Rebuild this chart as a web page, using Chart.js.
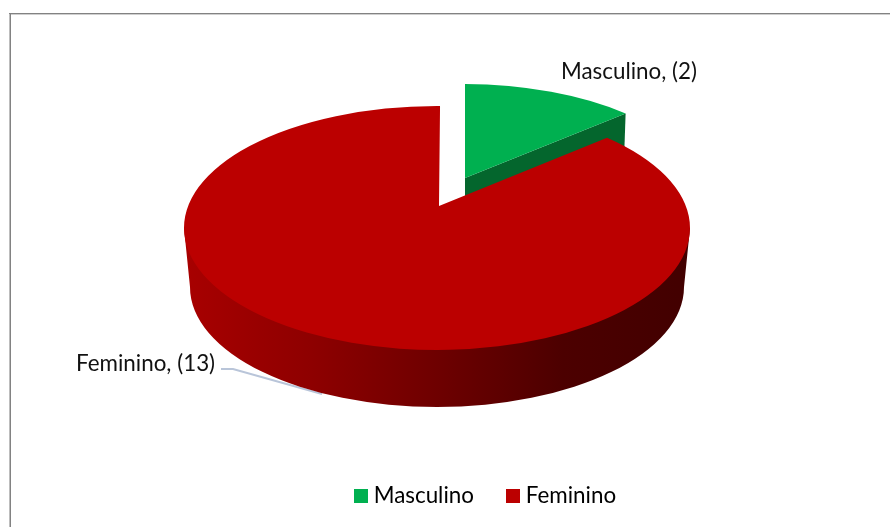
<!DOCTYPE html>
<html><head><meta charset="utf-8">
<style>html,body{margin:0;padding:0;background:#fff}#w{width:890px;height:527px}</style>
<script src="https://cdn.jsdelivr.net/npm/chart.js@4"></script></head>
<body><div id="w"><canvas id="c" width="890" height="527"></canvas></div>
<script>
const categories = ['Masculino', 'Feminino'];
const values = [2, 13];
const sliceColors = ['#00b050', '#bb0000'];
const FONT = 'Lato, Carlito, sans-serif';

// projection of the library's arcs onto a tilted, perspective disc
const view = {dx:-50.5, cy:228, tilt:122/253, apexDrop:-22, s:0.852,
  depth:59, bottomR:247, bottomRy:120};
const explode = [{dx:26, dy:-28, kx:0.96, ky:0.94, tOff:0.008}, {dx:0, dy:0, kx:1, ky:1, tOff:0.012}];
const project = (a,off) => 2*Math.atan2(view.s*Math.sin(a/2), Math.cos(a/2)) + off;

function swatch(color){
  const c = document.createElement('canvas'); c.width = 14; c.height = 14;
  const g = c.getContext('2d'); g.fillStyle = color; g.fillRect(0,0,14,14); return c;
}

const pie3d = {
  id:'pie3d',
  beforeDraw(chart){
    const ctx = chart.ctx;
    ctx.save();
    ctx.fillStyle = '#fff'; ctx.fillRect(0,0,chart.width,chart.height);
    ctx.fillStyle = '#cfcfcf'; ctx.fillRect(9,14,chart.width-9,1);
    ctx.fillStyle = '#bdbdbd'; ctx.fillRect(9,13,1,chart.height-13);
    ctx.fillStyle = '#828282'; ctx.fillRect(9,13,chart.width-9,1); ctx.fillRect(10,13,1,chart.height-13);
    ctx.restore();
  },
  beforeDatasetsDraw(chart){
    const ctx = chart.ctx, arcs = chart.getDatasetMeta(0).data;
    const R = arcs[0].outerRadius, cx = arcs[0].x + view.dx, cy = view.cy, Ry = R*view.tilt;
    const apex = {x:cx+2, y:cy+view.apexDrop};
    ctx.save();
    // leader line of the lower label
    ctx.strokeStyle = '#b9c5d9'; ctx.lineWidth = 2;
    ctx.beginPath(); ctx.moveTo(221,369); ctx.lineTo(233,369); ctx.lineTo(322,394); ctx.stroke();

    arcs.forEach((arc,i)=>{
      const e = explode[i];
      const t0 = project(arc.startAngle+Math.PI/2,e.tOff), t1 = project(arc.endAngle+Math.PI/2,e.tOff);
      ctx.save();
      ctx.translate(apex.x+e.dx, apex.y+e.dy); ctx.scale(e.kx,e.ky); ctx.translate(-apex.x,-apex.y);
      if (i===0){
        // visible cut face of the pulled-out slice
        const ex = cx+R*Math.sin(t1), ey = cy-Ry*Math.cos(t1);
        ctx.fillStyle = '#04662d';
        ctx.beginPath(); ctx.moveTo(apex.x,apex.y); ctx.lineTo(ex,ey);
        ctx.lineTo(ex-2,ey+view.depth); ctx.lineTo(apex.x,apex.y+view.depth); ctx.closePath(); ctx.fill();
      } else {
        // outer wall
        const g = ctx.createLinearGradient(cx-R,0,cx+R,0);
        g.addColorStop(0,'#a80000'); g.addColorStop(0.25,'#8e0000'); g.addColorStop(0.5,'#6e0000');
        g.addColorStop(0.75,'#4c0000'); g.addColorStop(1,'#420000');
        ctx.fillStyle = g;
        ctx.beginPath();
        ctx.ellipse(cx,cy+view.depth,view.bottomR,view.bottomRy,0,0,Math.PI);
        ctx.lineTo(cx-R,cy); ctx.lineTo(cx+R,cy); ctx.closePath(); ctx.fill();
      }
      ctx.fillStyle = sliceColors[i];
      ctx.beginPath(); ctx.moveTo(apex.x,apex.y);
      ctx.ellipse(cx,cy,R,Ry,0,t0-Math.PI/2,t1-Math.PI/2);
      ctx.closePath(); ctx.fill();
      ctx.restore();
    });
    // data labels
    ctx.fillStyle = '#111'; ctx.font = '22.4px '+FONT; ctx.textBaseline = 'alphabetic'; ctx.textAlign = 'left';
    ctx.fillText(categories[0]+', ('+values[0]+')', 561, 79);
    ctx.fillText(categories[1]+', ('+values[1]+')', 76, 371);
    ctx.restore();
    return false;
  }
};

new Chart(document.getElementById('c'), {
  type:'pie',
  data:{labels:categories, datasets:[{data:values, backgroundColor:sliceColors, borderWidth:0, radius:253}]},
  plugins:[pie3d],
  options:{
    responsive:false, animation:false,
    layout:{padding:{left:85, right:0, top:0, bottom:10}},
    plugins:{
      tooltip:{enabled:false},
      legend:{position:'bottom',
        labels:{font:{family:FONT,size:22.4}, color:'#111', boxWidth:14, boxHeight:14, padding:37,
          usePointStyle:true, pointStyleWidth:3.6,
          generateLabels:()=>categories.map((c,i)=>({text:c, fillStyle:sliceColors[i], strokeStyle:sliceColors[i], lineWidth:0,
            pointStyle:swatch(sliceColors[i]), hidden:false, index:i}))}}
    }
  }
});
</script></body></html>
